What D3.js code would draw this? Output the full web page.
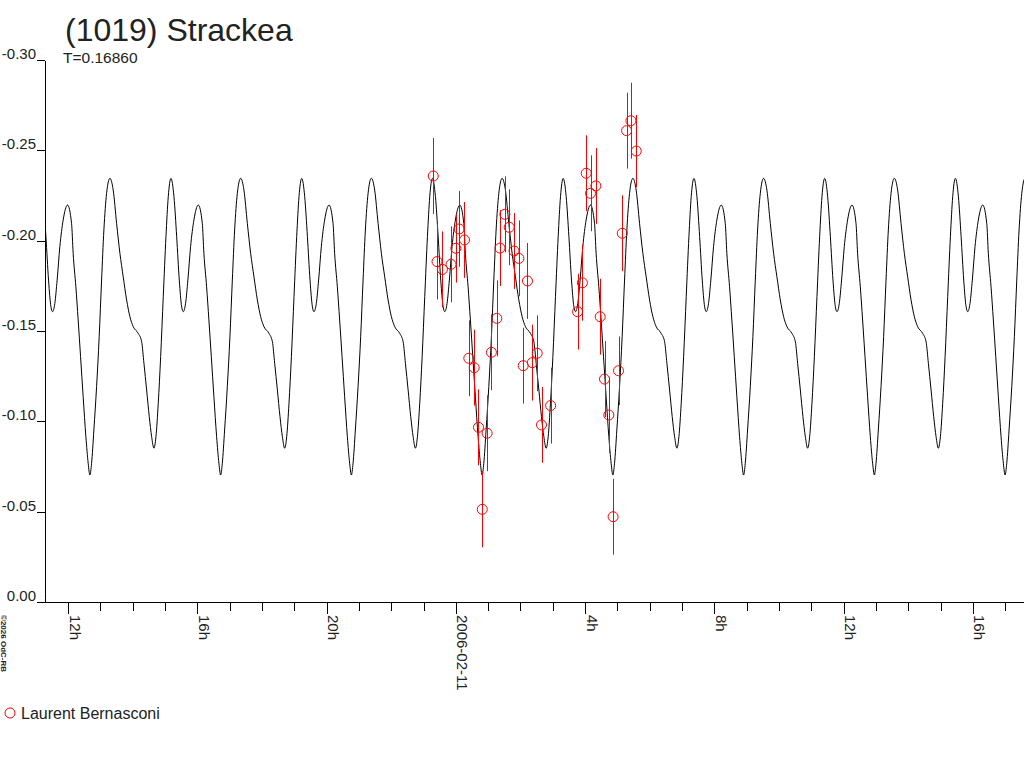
<!DOCTYPE html>
<html><head><meta charset="utf-8">
<script src="https://cdn.jsdelivr.net/npm/d3@7"></script>
<style>
body{margin:0;background:#fff;}
svg{display:block;font-family:"Liberation Sans",Arial,sans-serif;}
</style></head><body>
<svg id="c" width="1024" height="768"></svg>
<script>
const title = "(1019) Strackea";
const periodLabel = "T=0.16860";
const periodDays = 0.16860;
const epoch = "2006-02-10 11:31";
const observer = "Laurent Bernasconi";
const credit = "\u00A92026 OdC-RB";
const xDomain = ["2006-02-10 11:17", "2006-02-11 17:35"];
const yDomain = [0, -0.30];
const yTicks = [0, -0.05, -0.10, -0.15, -0.20, -0.25, -0.30];

// one cycle of the fitted lightcurve (phase 0..1 from epoch)
const curvePhase = [0.000,0.0176,0.0352,0.0559,0.0812,0.1149,0.1455,0.1577,0.1784,0.1960,
  0.2144,0.2343,0.2550,0.2726,0.2856,0.2986,0.3162,0.3369,0.3568,0.3752,0.3928,0.4135,
  0.4387,0.4640,0.4900,0.5153,0.5406,0.5666,0.5919,0.6172,0.6554,0.6815,0.6991,0.7198,
  0.7397,0.7580,0.7756,0.7910,0.8086,0.8270,0.8469,0.8675,0.8851,0.9058,0.9288,0.9495,
  0.9694,0.9877];
const curveMag = [-0.1607,-0.1653,-0.1782,-0.1967,-0.2114,-0.2197,-0.2096,-0.1930,-0.1745,-0.1561,
  -0.1358,-0.1136,-0.0915,-0.0768,-0.0703,-0.0768,-0.0952,-0.1192,-0.1468,-0.1782,-0.2059,-0.2262,
  -0.2345,-0.2280,-0.2096,-0.1930,-0.1800,-0.1672,-0.1579,-0.1524,-0.1487,-0.1441,-0.1321,-0.1173,
  -0.1026,-0.0915,-0.0851,-0.0915,-0.1100,-0.1358,-0.1690,-0.2022,-0.2243,-0.2345,-0.2243,-0.2022,
  -0.1782,-0.1634];

// observations
const obsTime = ["2006-02-10 23:18","2006-02-10 23:25","2006-02-10 23:35","2006-02-10 23:51",
  "2006-02-11 00:00","2006-02-11 00:06","2006-02-11 00:16","2006-02-11 00:24","2006-02-11 00:34",
  "2006-02-11 00:42","2006-02-11 00:49","2006-02-11 00:58","2006-02-11 01:06","2006-02-11 01:16",
  "2006-02-11 01:22","2006-02-11 01:31","2006-02-11 01:39","2006-02-11 01:48","2006-02-11 01:57",
  "2006-02-11 02:05","2006-02-11 02:13","2006-02-11 02:22","2006-02-11 02:31","2006-02-11 02:39",
  "2006-02-11 02:56","2006-02-11 03:46","2006-02-11 03:55","2006-02-11 04:02","2006-02-11 04:10",
  "2006-02-11 04:20","2006-02-11 04:28","2006-02-11 04:36","2006-02-11 04:44","2006-02-11 04:52",
  "2006-02-11 05:02","2006-02-11 05:09","2006-02-11 05:17","2006-02-11 05:25","2006-02-11 05:35"];
const obsMag = [-0.2358,-0.1884,-0.1841,-0.1869,-0.1958,-0.2065,-0.2004,-0.1349,-0.1297,
  -0.0967,-0.0513,-0.0934,-0.1382,-0.1570,-0.1959,-0.2146,-0.2074,-0.1943,-0.1902,
  -0.1308,-0.1777,-0.1325,-0.1377,-0.0980,-0.1087,-0.1607,-0.1767,-0.2373,-0.2262,
  -0.2303,-0.1579,-0.1234,-0.1035,-0.0472,-0.1280,-0.2041,-0.2609,-0.2664,-0.2496];
const obsErr = [0.021,0.021,0.021,0.021,0.019,0.021,0.021,0.021,0.021,
  0.021,0.021,0.021,0.021,0.021,0.021,0.021,0.021,0.021,0.021,
  0.021,0.021,0.021,0.021,0.021,0.021,0.021,0.021,0.021,0.021,
  0.021,0.021,0.021,0.021,0.021,0.019,0.021,0.021,0.021,0.020];

(function () {
const parse = d3.utcParse("%Y-%m-%d %H:%M");
const svg = d3.select("#c");
const plotLeft = 45, plotRight = 1024, plotTop = 60, plotBottom = 602;
const textColor = "#222";

const x = d3.scaleUtc().domain(xDomain.map(parse)).range([plotLeft, plotRight]);
const y = d3.scaleLinear().domain(yDomain).range([plotBottom, plotTop]);

// curve tiled over the period
const P = periodDays * 86400000;
const t0 = parse(epoch).getTime();
const d0 = x.domain()[0].getTime(), d1 = x.domain()[1].getTime();
const kMin = Math.floor((d0 - t0) / P) - 1, kMax = Math.ceil((d1 - t0) / P) + 1;
const curvePts = [];
for (let k = kMin; k <= kMax; k++) {
  curvePhase.forEach((p, i) => curvePts.push([new Date(t0 + (k + p) * P), curveMag[i]]));
}

svg.append("defs").append("clipPath").attr("id", "clip")
  .append("rect").attr("x", plotLeft).attr("y", 0).attr("width", plotRight - plotLeft).attr("height", plotBottom);

svg.append("path").datum(curvePts)
  .attr("clip-path", "url(#clip)")
  .attr("fill", "none").attr("stroke", "#000").attr("stroke-width", 1)
  .attr("d", d3.line().x(d => x(d[0])).y(d => y(d[1])).curve(d3.curveMonotoneX));

// axes
const yAxis = svg.append("g").attr("transform", `translate(${plotLeft},0)`)
  .call(d3.axisLeft(y).tickValues(yTicks).tickSize(8).tickSizeOuter(0).tickPadding(1)
    .tickFormat(v => v.toFixed(2)));
yAxis.selectAll("path,line").attr("stroke", "#000").attr("shape-rendering", "crispEdges");
yAxis.selectAll("text").attr("dy", "-0.1em").attr("font-size", 15).attr("fill", textColor)
  .attr("font-family", "'Liberation Sans',Arial,sans-serif");

const minor = svg.append("g").attr("transform", `translate(0,${plotBottom})`)
  .call(d3.axisBottom(x).ticks(d3.utcHour.every(1)).tickSize(9).tickSizeOuter(0).tickFormat(""));
minor.select(".domain").remove();
minor.selectAll("line").attr("stroke", "#000").attr("shape-rendering", "crispEdges");

const fmtTick = d => d.getUTCHours() === 0 ? d3.utcFormat("%Y-%m-%d")(d) : d3.utcFormat("%-H")(d) + "h";
const xAxis = svg.append("g").attr("transform", `translate(0,${plotBottom})`)
  .call(d3.axisBottom(x).ticks(d3.utcHour.every(4)).tickSize(12).tickSizeOuter(0).tickFormat(fmtTick));
xAxis.selectAll("path,line").attr("stroke", "#000").attr("shape-rendering", "crispEdges");
xAxis.selectAll("text")
  .attr("x", 0).attr("y", 0).attr("dy", 0)
  .attr("transform", "translate(1,13) rotate(90)")
  .attr("text-anchor", "start")
  .attr("font-size", 15).attr("fill", textColor)
  .attr("font-family", "'Liberation Sans',Arial,sans-serif");

// error bars and points
const obs = obsTime.map((t, i) => ({t: parse(t), m: obsMag[i], e: obsErr[i]}));
svg.append("g").selectAll("line").data(obs).join("line")
  .attr("x1", d => Math.round(x(d.t)) + 0.5).attr("x2", d => Math.round(x(d.t)) + 0.5)
  .attr("y1", d => y(d.m - d.e)).attr("y2", d => y(d.m + d.e))
  .attr("stroke", "#ff0000").attr("stroke-width", 1);
svg.append("g").selectAll("circle").data(obs).join("circle")
  .attr("cx", d => x(d.t)).attr("cy", d => y(d.m)).attr("r", 5)
  .attr("fill", "none").attr("stroke", "#ff0000").attr("stroke-width", 1);

// titles
svg.append("text").attr("x", 65).attr("y", 41).attr("font-size", 32).attr("fill", textColor).text(title);
svg.append("text").attr("x", 63).attr("y", 63).attr("font-size", 15.5).attr("fill", textColor).text(periodLabel);

// legend
svg.append("circle").attr("cx", 10).attr("cy", 713).attr("r", 5)
  .attr("fill", "none").attr("stroke", "#ff0000").attr("stroke-width", 1);
svg.append("text").attr("x", 21).attr("y", 719).attr("font-size", 16).attr("fill", textColor).text(observer);

// credit
svg.append("text").attr("transform", "translate(1,615) rotate(90)")
  .attr("font-size", 8).attr("font-weight", "bold").attr("fill", textColor).text(credit);
})();
</script></body></html>
